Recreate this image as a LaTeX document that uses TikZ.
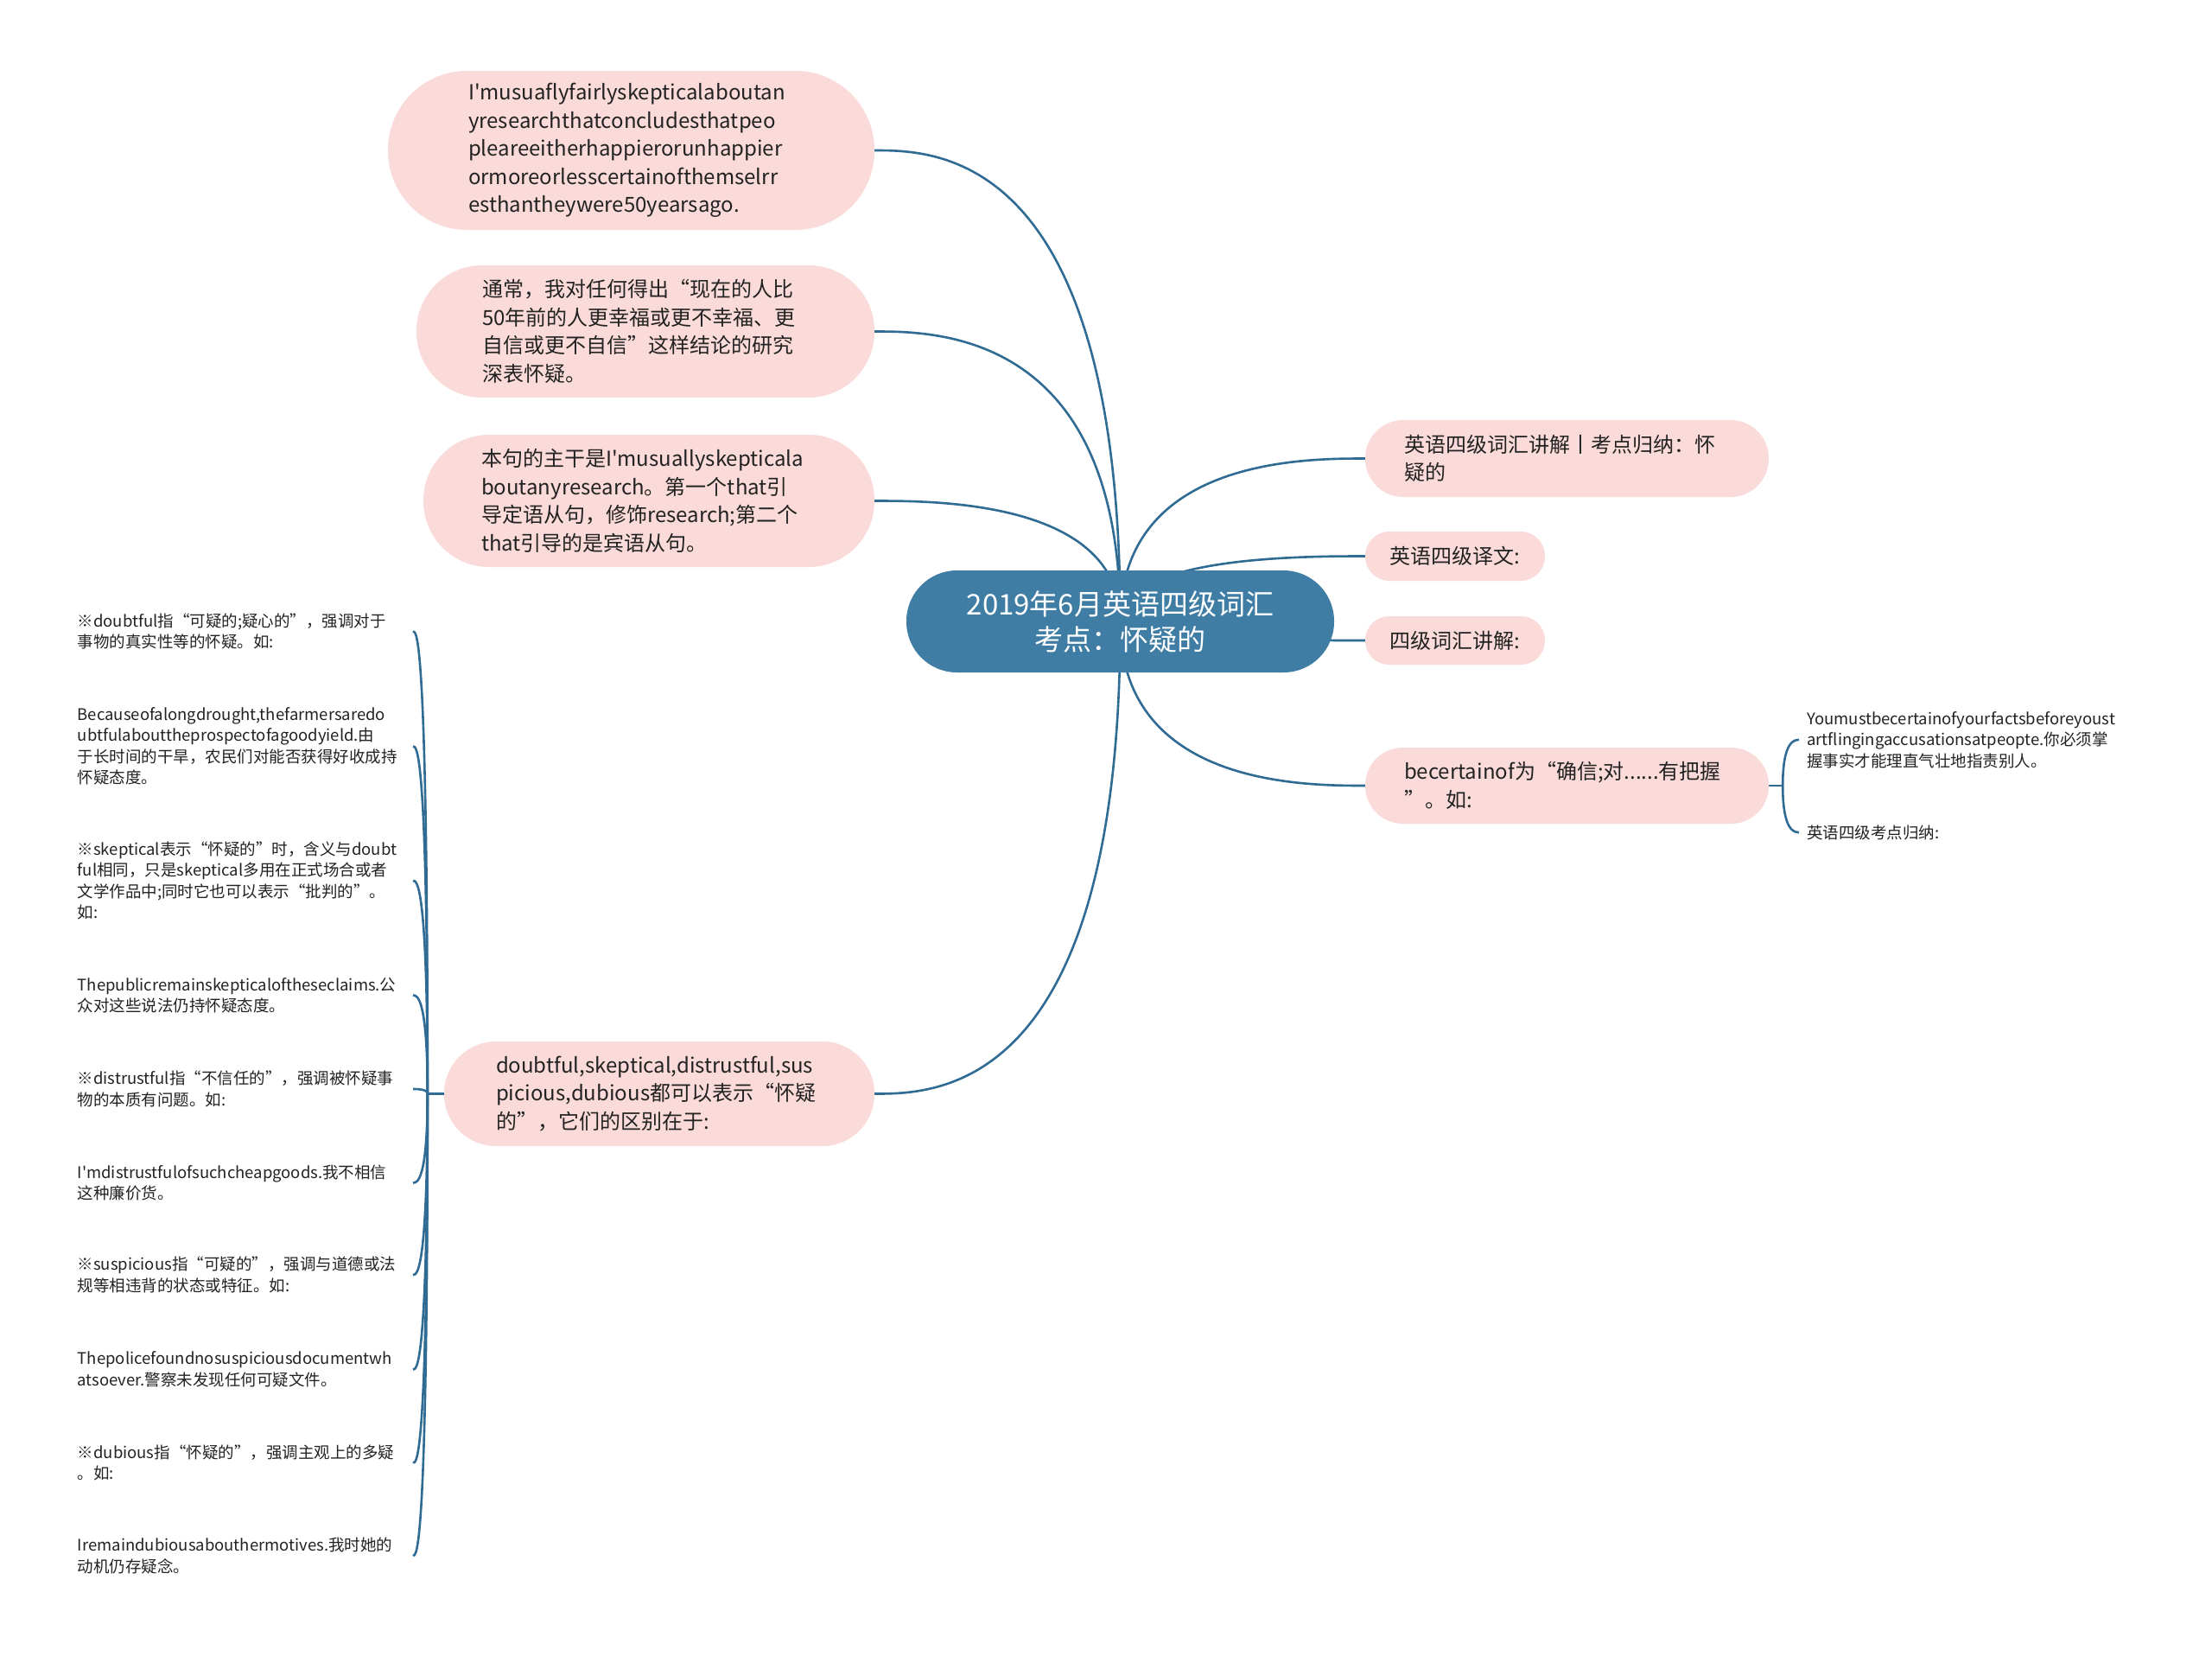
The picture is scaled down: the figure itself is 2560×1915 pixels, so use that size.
\documentclass[tikz,border=0pt]{standalone}
\usepackage{fontspec}
\newfontfamily\cjk{Noto Sans CJK SC}
\usetikzlibrary{calc}
\hyphenpenalty=10000
\exhyphenpenalty=10000
\definecolor{pinkfill}{HTML}{FADBD9}
\definecolor{ctrfill}{HTML}{3F7DA4}
\definecolor{linec}{HTML}{2F6B93}
\definecolor{txt}{HTML}{222222}
\pgfdeclarelayer{bg}
\pgfsetlayers{bg,main}
\begin{document}
\begin{tikzpicture}[x=1pt,y=-1pt,
  conn/.style={draw=linec, line width=2.6pt},
  pill/.style={fill=pinkfill, text=txt, align=left, inner ysep=0pt, font=\fontsize{24}{32.6}\selectfont\cjk},
  leaf/.style={text=txt, align=left, inner ysep=0pt, font=\fontsize{18.5}{24.5}\selectfont\cjk},
  lleaf/.style={leaf, anchor=east, inner xsep=0pt, text width=388pt},
  rleaf/.style={leaf, anchor=west, inner xsep=9pt, text width=420pt},
]
\useasboundingbox (0,0) rectangle (2560,1915);

% central topic
\node[fill=ctrfill, text=white, align=center, inner xsep=59pt, inner ysep=0pt, text width=377pt,
      minimum width=495pt, minimum height=118pt, rounded corners=58.5pt,
      font=\fontsize{33}{41}\selectfont\cjk] (ctr) at (1296.5,719) {2019年6月英语四级词汇\\考点：怀疑的};

% left main branches
\node[pill, minimum width=563pt, minimum height=184pt, rounded corners=91.5pt, inner xsep=93pt, text width=377pt] (A) at (730.5,174)
  {I'musuaflyfairlyskepticalaboutan\\yresearchthatconcludesthatpeo\\pleareeitherhappierorunhappier\\ormoreorlesscertainofthemselrr\\esthantheywere50yearsago.};
\node[pill, minimum width=530pt, minimum height=153pt, rounded corners=76pt, inner xsep=76pt, text width=378pt] (B) at (747,383.5)
  {通常，我对任何得出“现在的人比\\50年前的人更幸福或更不幸福、更\\自信或更不自信”这样结论的研究\\深表怀疑。};
\node[pill, minimum width=522pt, minimum height=153pt, rounded corners=76pt, inner xsep=67pt, text width=388pt] (C) at (751,579.5)
  {本句的主干是I'musuallyskepticala\\boutanyresearch。第一个that引\\导定语从句，修饰research;第二个\\that引导的是宾语从句。};
\node[pill, minimum width=498pt, minimum height=121pt, rounded corners=60pt, inner xsep=60pt, text width=378pt] (D) at (763,1265.5)
  {doubtful,skeptical,distrustful,sus\\picious,dubious都可以表示“怀疑\\的”，它们的区别在于:};

% right main branches
\node[pill, minimum width=467pt, minimum height=89pt, rounded corners=44pt, inner xsep=45pt, text width=377pt] (R1) at (1813.5,530.5)
  {英语四级词汇讲解丨考点归纳：怀\\疑的};
\node[pill, minimum width=208pt, minimum height=57pt, rounded corners=28pt, inner xsep=28pt, text width=152pt] (R2) at (1684,643.5)
  {英语四级译文:};
\node[pill, minimum width=208pt, minimum height=56pt, rounded corners=27.5pt, inner xsep=28pt, text width=152pt] (R3) at (1684,741)
  {四级词汇讲解:};
\node[pill, minimum width=467pt, minimum height=88pt, rounded corners=43.5pt, inner xsep=45pt, text width=377pt] (R4) at (1813.5,909)
  {becertainof为“确信;对......有把握\\”。如:};

% children of R4
\node[rleaf] (Y1) at (2082,856)
  {Youmustbecertainofyourfactsbeforeyoust\\artflingingaccusationsatpeopte.你必须掌\\握事实才能理直气壮地指责别人。};
\node[rleaf] (Y2) at (2082,963) {英语四级考点归纳:};

% children of D
\node[lleaf] (L1) at (478,730.5) {※doubtful指“可疑的;疑心的”，强调对于\\事物的真实性等的怀疑。如:};
\node[lleaf] (L2) at (478,863.5) {Becauseofalongdrought,thefarmersaredo\\ubtfulabouttheprospectofagoodyield.由\\于长时间的干旱，农民们对能否获得好收成持\\怀疑态度。};
\node[lleaf] (L3) at (478,1019) {※skeptical表示“怀疑的”时，含义与doubt\\ful相同，只是skeptical多用在正式场合或者\\文学作品中;同时它也可以表示“批判的”。\\如:};
\node[lleaf] (L4) at (478,1151.5) {Thepublicremainskepticaloftheseclaims.公\\众对这些说法仍持怀疑态度。};
\node[lleaf] (L5) at (478,1260) {※distrustful指“不信任的”，强调被怀疑事\\物的本质有问题。如:};
\node[lleaf] (L6) at (478,1368.5) {I'mdistrustfulofsuchcheapgoods.我不相信\\这种廉价货。};
\node[lleaf] (L7) at (478,1475) {※suspicious指“可疑的”，强调与道德或法\\规等相违背的状态或特征。如:};
\node[lleaf] (L8) at (478,1584.5) {Thepolicefoundnosuspiciousdocumentwh\\atsoever.警察未发现任何可疑文件。};
\node[lleaf] (L9) at (478,1692.5) {※dubious指“怀疑的”，强调主观上的多疑\\。如:};
\node[lleaf] (L10) at (478,1800) {Iremaindubiousabouthermotives.我时她的\\动机仍存疑念。};

\begin{pgfonlayer}{bg}
\fill[white] (0,0) rectangle (2560,1915);
\foreach \n in {A,B,C,D}
  \draw[conn] (ctr.center) .. controls (ctr.center |- \n.east) and ($(ctr.center |- \n.east)!0.75!(\n.east)$) .. (\n.east);
\foreach \n in {R1,R2,R3,R4}
  \draw[conn] (ctr.center) .. controls (ctr.center |- \n.west) and ($(ctr.center |- \n.west)!0.75!(\n.west)$) .. (\n.west);
\coordinate (dj) at ($(D.west)+(-19,0)$);
\draw[conn] (D.west) -- (dj);
\foreach \n in {L1,L2,L3,L4,L5,L6,L7,L8,L9,L10}
  \draw[conn] (dj) .. controls (dj |- \n.east) and ($(dj |- \n.east)!0.75!(\n.east)$) .. (\n.east);
\coordinate (rj) at ($(R4.east)+(16,0)$);
\draw[conn] (R4.east) -- (rj);
\foreach \n in {Y1,Y2}
  \draw[conn] (rj) .. controls (rj |- \n.west) and ($(rj |- \n.west)!0.75!(\n.west)$) .. (\n.west);
\end{pgfonlayer}
\end{tikzpicture}
\end{document}
